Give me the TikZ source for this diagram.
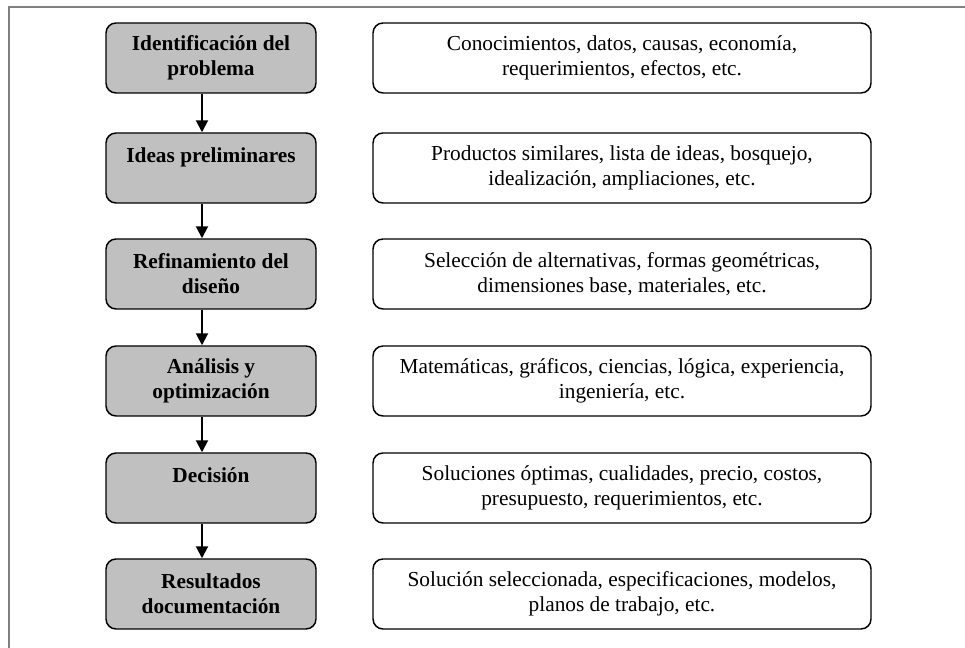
\documentclass[tikz,border=0pt]{standalone}
\usepackage{fontspec}
\setmainfont{Liberation Serif}
\usetikzlibrary{arrows.meta}
\definecolor{fondo}{HTML}{C0C0C0}
\begin{document}
\begin{tikzpicture}[x=0.75pt, y=-0.75pt,
		paso/.style={draw, line width=1.1pt, rounded corners=7.5pt, fill=fondo, minimum width=157.5pt, minimum height=52.5pt, inner sep=0pt, align=center, font=\fontsize{16}{18.75}\selectfont\bfseries},
		nota/.style={draw, line width=1.1pt, rounded corners=7.5pt, fill=white, minimum width=373.5pt, minimum height=52.5pt, inner sep=0pt, align=center, font=\fontsize{16}{18.75}\selectfont}]
	\useasboundingbox (0,0) rectangle (965,648);
	%frame
	\draw[line width=1.1pt, gray] (9,648) -- (9,7) -- (965,7);
	
	%steps and notes
	\foreach \i/\y/\titulo/\texto in {
		1/58/{Identificación del\\problema}/{Conocimientos, datos, causas, economía,\\requerimientos, efectos, etc.},
		2/168/{Ideas preliminares\\~}/{Productos similares, lista de ideas, bosquejo,\\idealización, ampliaciones, etc.},
		3/274/{Refinamiento del\\diseño}/{Selección de alternativas, formas geométricas,\\dimensiones base, materiales, etc.},
		4/381/{Análisis y\\optimización}/{Matemáticas, gráficos, ciencias, lógica, experiencia,\\ingeniería, etc.},
		5/488/{Decisión\\~}/{Soluciones óptimas, cualidades, precio, costos,\\presupuesto, requerimientos, etc.},
		6/594/{Resultados\\documentación}/{Solución seleccionada, especificaciones, modelos,\\planos de trabajo, etc.}}{
		\node (p\i) at (211, \y) [paso]{\titulo};
		\node (n\i) at (622, \y) [nota]{\texto};
	}
	
	%arrows
	\foreach \i [evaluate=\i as \j using int(\i+1)] in {1, 2, ..., 5}{
		\draw[-{Triangle[width=9pt, length=9pt]}, line width=1.5pt] ([xshift=-6.75pt]p\i.south) -- ([xshift=-6.75pt]p\j.north);
	}
\end{tikzpicture}
\end{document}
